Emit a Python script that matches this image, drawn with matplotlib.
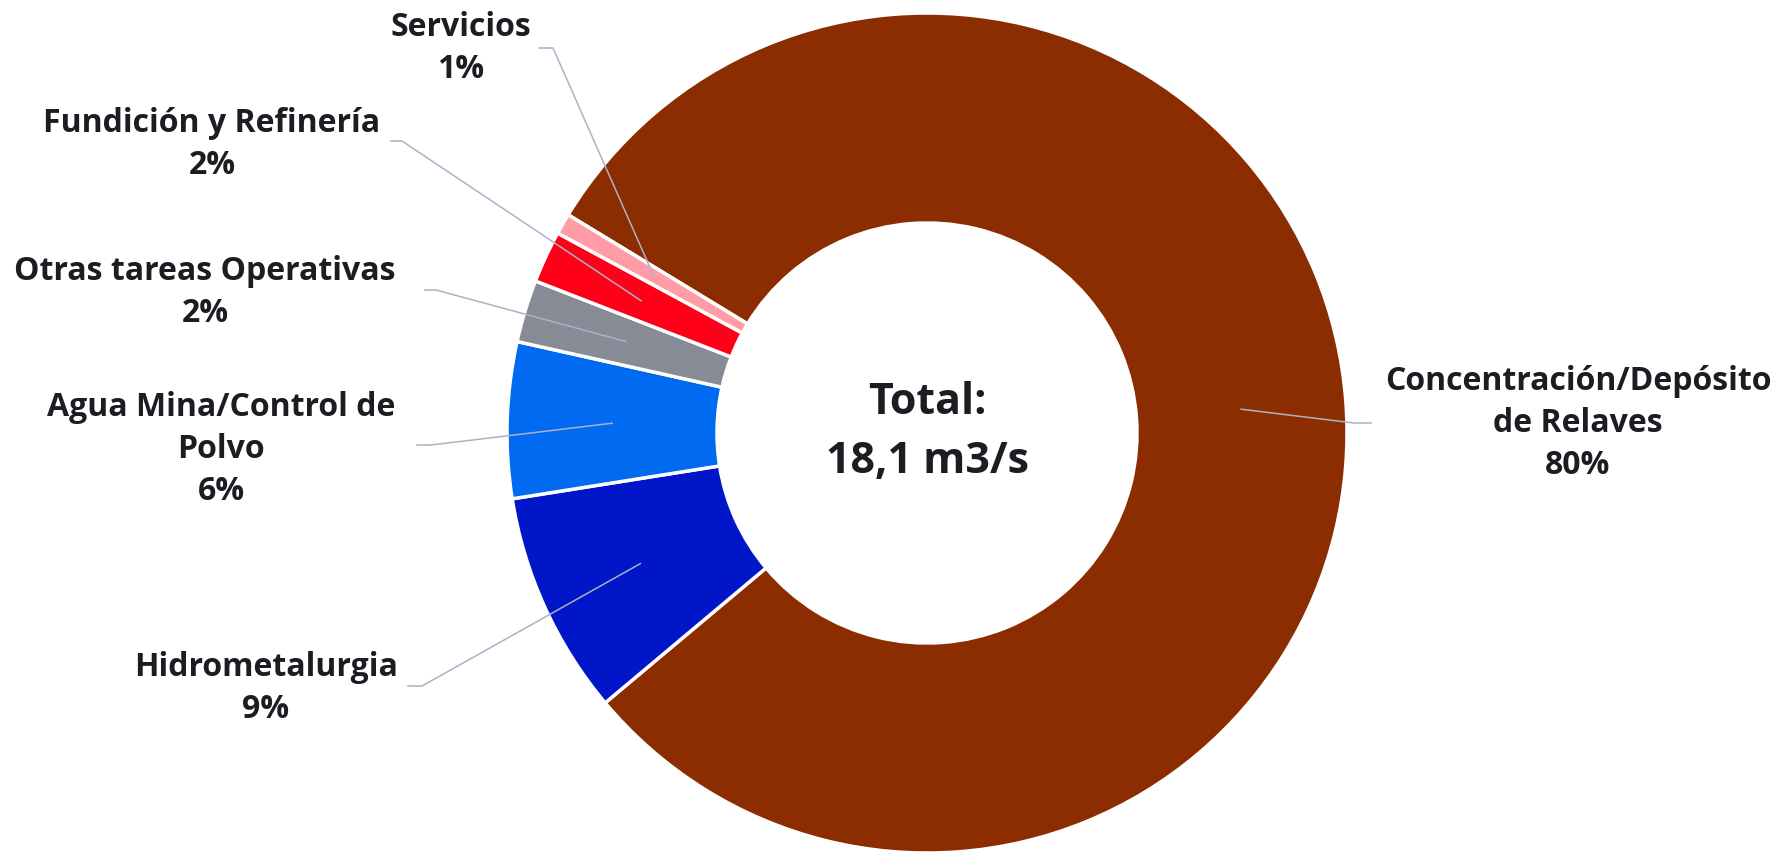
import matplotlib.pyplot as plt
import numpy as np

# Uso de agua por proceso (% del total 18,1 m3/s)
categorias = ["Concentración/Depósito\nde Relaves", "Hidrometalurgia",
              "Agua Mina/Control de\nPolvo", "Otras tareas Operativas",
              "Fundición y Refinería", "Servicios"]
porcentajes = [80.2, 8.6, 6.0, 2.4, 2.0, 0.8]
colores = ["#8b2d00", "#0016c8", "#006af0", "#868b95", "#ff0019", "#ff9ca6"]
texto_total = "Total:\n18,1 m3/s"

W, H = 1777, 852
fig = plt.figure(figsize=(W / 100, H / 100), dpi=100)
ax = fig.add_axes([0, 0, 1, 1])

cx, cy = 927, H - 433
R = 420

wedges, _ = ax.pie(porcentajes, colors=colores, startangle=148.7, counterclock=False,
                   radius=R, center=(cx, cy),
                   wedgeprops=dict(width=R / 2, edgecolor="white", linewidth=2.5))
ax.set_xlim(0, W)
ax.set_ylim(0, H)
ax.set_aspect("equal")
ax.axis("off")

# posiciones de etiquetas (px, y desde arriba) y codo de la linea guia
etiquetas = [(1578, 424, 1371, 423, 1354),
             (266, 689, 408, 686, 422),
             (221, 450, 417, 445, 431),
             (205, 293, 425, 290, 436),
             (212, 144, 391, 141, 402),
             (461, 49, 539, 48, 553)]

for w, nombre, pct, (tx, ty, lx, ly, ex) in zip(wedges, categorias, porcentajes, etiquetas):
    ang = np.deg2rad((w.theta1 + w.theta2) / 2)
    px = cx + 0.75 * R * np.cos(ang)
    py = cy + 0.75 * R * np.sin(ang)
    ax.plot([lx, ex, px], [H - ly, H - ly, py], color="#aeb0c8", lw=1.1, zorder=3)
    ax.text(tx, H - ty, f"{nombre}\n{round(pct)}%", ha="center", va="center",
            fontsize=23, fontweight="bold", family="Open Sans", color="#1c1c22",
            linespacing=1.36)

ax.text(cx, cy + 1, texto_total, ha="center", va="center", fontsize=31,
        fontweight="bold", family="Open Sans", color="#1c1c22", linespacing=1.5)

fig.savefig("out.png", dpi=100, facecolor="white")
